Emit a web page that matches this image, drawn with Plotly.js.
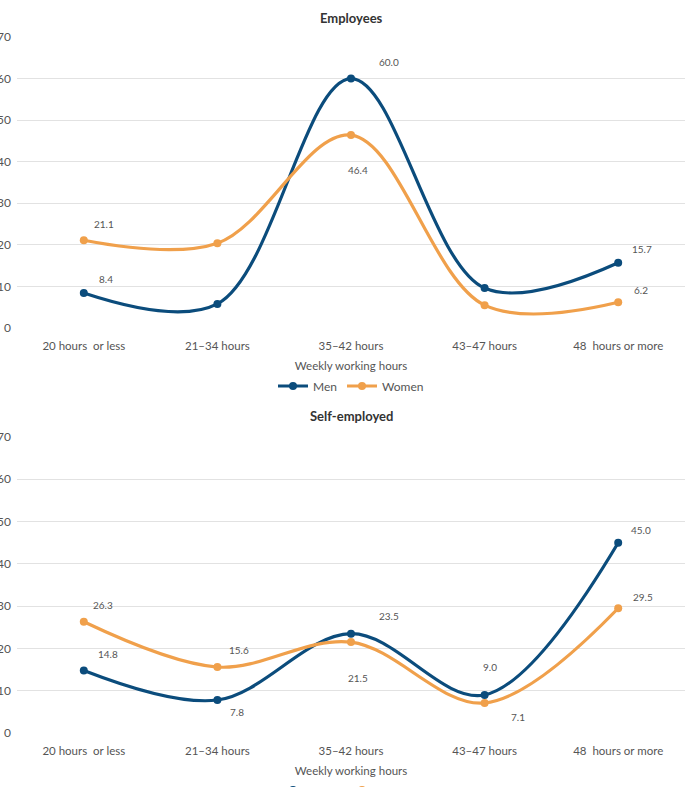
<!DOCTYPE html>
<html>
<head>
<meta charset="utf-8">
<script src="https://cdn.plot.ly/plotly-3.0.1.min.js"></script>
<style>html,body{margin:0;padding:0;background:#fff;}#chart{width:686px;height:787px;}</style>
</head>
<body>
<div id="chart"></div>
<script>
// ---- data ----
const categories = ['20 hours  or less', '21–34 hours', '35–42 hours', '43–47 hours', '48  hours or more'];
const seriesNames = ['Men', 'Women'];
const employeesMen = [8.4, 5.8, 60.0, 9.6, 15.7];
const employeesWomen = [21.1, 20.4, 46.4, 5.5, 6.2];
const selfEmployedMen = [14.8, 7.8, 23.5, 9.0, 45.0];
const selfEmployedWomen = [26.3, 15.6, 21.5, 7.1, 29.5];
const employeesLabelled = [0, 2, 4];
const selfEmployedLabelled = [0, 1, 2, 3, 4];
const yTickValues = [0, 10, 20, 30, 40, 50, 60, 70];
const panelTitles = ['Employees', 'Self-employed'];
const xTitle = 'Weekly working hours';

// ---- style ----
const colors = {Men: '#0b4c7c', Women: '#f0a04b'};
const FONT = 'Lato, "Source Sans Pro", "Noto Sans", sans-serif';
// label offsets in px [dx, dy(down)]
const offEmpMen = {0: [22, -14], 2: [38, -17], 4: [24, -14]};
const offEmpWomen = {0: [20, -16], 2: [7, 35], 4: [23, -12]};
const offSelfMen = {0: [24, -16], 1: [20, 12], 2: [38, -18], 3: [5, -28], 4: [23, -13]};
const offSelfWomen = {0: [19, -17], 1: [22, -17], 2: [7, 36], 3: [33, 14], 4: [25, -11]};

function trace(name, y, xa, ya, legend, showlegend) {
  return {
    type: 'scatter', mode: 'lines+markers', name: name,
    x: categories, y: y, xaxis: xa, yaxis: ya,
    line: {color: colors[name], width: 3.2, shape: 'spline', smoothing: 1},
    marker: {color: colors[name], size: 8},
    legend: legend, showlegend: showlegend, hoverinfo: 'x+y+name'
  };
}

const data = [
  trace('Men', employeesMen, 'x', 'y', 'legend', true),
  trace('Women', employeesWomen, 'x', 'y', 'legend', true),
  trace('Men', selfEmployedMen, 'x2', 'y2', 'legend2', true),
  trace('Women', selfEmployedWomen, 'x2', 'y2', 'legend2', true)
];

const annotations = [];
function addLabels(values, idx, offs, xref, yref) {
  idx.forEach(i => {
    const o = offs[i] || [20, -14];
    annotations.push({
      x: categories[i], y: values[i], xref: xref, yref: yref,
      text: values[i].toFixed(1), showarrow: false,
      xshift: o[0], yshift: -o[1],
      font: {family: FONT, size: 10, color: '#555555'}
    });
  });
}
addLabels(employeesMen, employeesLabelled, offEmpMen, 'x', 'y');
addLabels(employeesWomen, employeesLabelled, offEmpWomen, 'x', 'y');
addLabels(selfEmployedMen, selfEmployedLabelled, offSelfMen, 'x2', 'y2');
addLabels(selfEmployedWomen, selfEmployedLabelled, offSelfWomen, 'x2', 'y2');

const H = 787;
annotations.push({
  text: '<b>' + panelTitles[0] + '</b>', xref: 'paper', yref: 'paper', x: 0.5, y: (H - 18) / H,
  xanchor: 'center', yanchor: 'middle', showarrow: false,
  font: {family: FONT, size: 13, color: '#333333'}
});
annotations.push({
  text: '<b>' + panelTitles[1] + '</b>', xref: 'paper', yref: 'paper', x: 0.5, y: (H - 416) / H,
  xanchor: 'center', yanchor: 'middle', showarrow: false,
  font: {family: FONT, size: 13, color: '#333333'}
});

function xaxis(anchor) {
  return {
    anchor: anchor, type: 'category', domain: [0, 1], range: [-0.5, categories.length - 0.5],
    showgrid: false, showline: false, zeroline: false, ticks: '',
    ticklabelstandoff: 9,
    tickfont: {family: FONT, size: 11.5, color: '#555555'},
    title: {text: xTitle, standoff: 11, font: {family: FONT, size: 11.5, color: '#555555'}},
    fixedrange: true
  };
}
function yaxis(anchor, domain) {
  return {
    anchor: anchor, domain: domain, range: [0, 70],
    tickvals: yTickValues, ticktext: yTickValues.map(String),
    showgrid: true, gridcolor: '#e2e2e2', gridwidth: 1,
    zeroline: false, showline: false, ticks: '',
    ticklabelstandoff: 5,
    tickfont: {family: FONT, size: 12, color: '#555555'},
    fixedrange: true
  };
}

const layout = {
  width: 686, height: 787,
  margin: {l: 17, r: 1, t: 0, b: 0, autoexpand: false},
  paper_bgcolor: '#ffffff', plot_bgcolor: '#ffffff',
  font: {family: FONT, color: '#555555'},
  xaxis: xaxis('y'),
  yaxis: yaxis('x', [(H - 328) / H, (H - 37) / H]),
  xaxis2: xaxis('y2'),
  yaxis2: yaxis('x2', [(H - 733) / H, (H - 437) / H]),
  legend: {orientation: 'h', x: 0.5, xanchor: 'center', y: (H - 386) / H, yanchor: 'middle',
           font: {family: FONT, size: 12, color: '#555555'}, bgcolor: 'rgba(0,0,0,0)'},
  legend2: {orientation: 'h', x: 0.5, xanchor: 'center', y: (H - 790) / H, yanchor: 'middle',
           font: {family: FONT, size: 12, color: '#555555'}, bgcolor: 'rgba(0,0,0,0)'},
  annotations: annotations,
  showlegend: true
};

Plotly.newPlot('chart', data, layout, {displayModeBar: false, staticPlot: true});
</script>
</body>
</html>
